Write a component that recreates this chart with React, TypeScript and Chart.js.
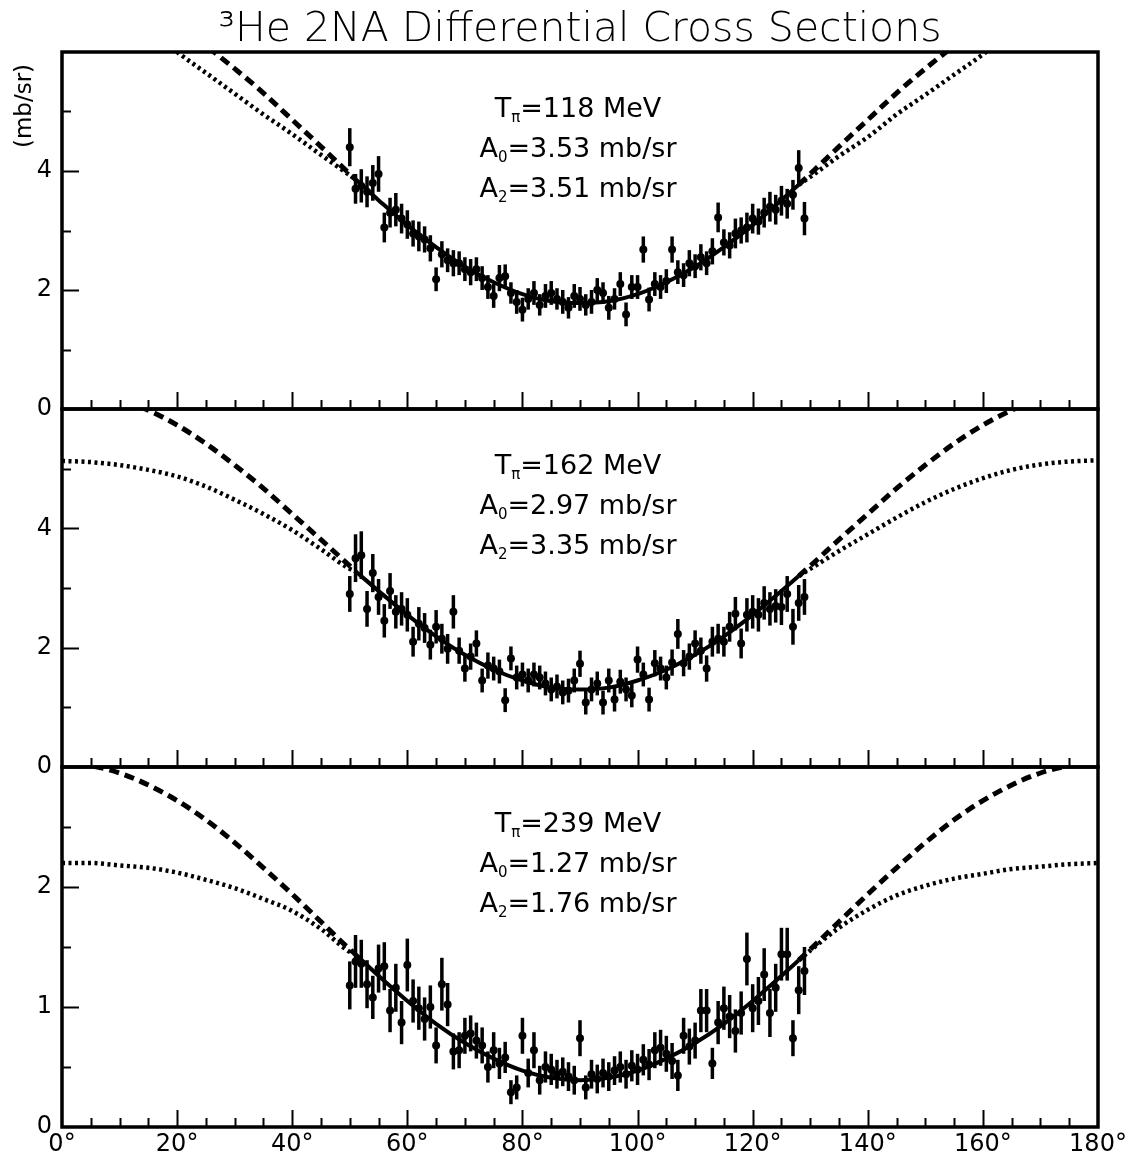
import React, { useEffect, useRef } from "react";
import { Chart, registerables } from "chart.js";

Chart.register(...registerables);

const FONT = '"DejaVu Sans", "Liberation Sans", sans-serif';

const TITLE = "³He 2NA Differential Cross Sections";
const Y_TITLE = "(mb/sr)";
const X_TICK_LABELS = ["0°", "20°", "40°", "60°", "80°", "100°", "120°", "140°", "160°", "180°"];

const ENERGIES = ["118", "162", "239"];
const A0_VALUES = ["3.53", "2.97", "1.27"];
const A2_VALUES = ["3.51", "3.35", "1.76"];

// measured angles (deg)
const DATA_ANGLES = [
  50, 51, 52, 53, 54, 55, 56, 57, 58, 59, 60, 61, 62, 63, 64, 65, 66, 67, 68, 69,
  70, 71, 72, 73, 74, 75, 76, 77, 78, 79, 80, 81, 82, 83, 84, 85, 86, 87, 88, 89,
  90, 91, 92, 93, 94, 95, 96, 97, 98, 99, 100, 101, 102, 103, 104, 105, 106, 107, 108, 109,
  110, 111, 112, 113, 114, 115, 116, 117, 118, 119, 120, 121, 122, 123, 124, 125, 126, 127, 128, 129,
];

// T = 118 MeV
const P1_VALUES = [
  4.40, 3.70, 3.75, 3.65, 3.80, 3.95, 3.05, 3.30, 3.35, 3.20,
  3.10, 2.95, 2.90, 2.85, 2.70, 2.18, 2.60, 2.50, 2.45, 2.45,
  2.35, 2.30, 2.35, 2.20, 2.05, 1.90, 2.20, 2.23, 1.95, 1.80,
  1.67, 1.85, 1.95, 1.75, 1.90, 1.95, 1.85, 1.80, 1.70, 1.90,
  1.85, 1.75, 1.80, 2.00, 1.95, 1.70, 1.85, 2.10, 1.59, 2.05,
  2.05, 2.68, 1.84, 2.10, 2.05, 2.15, 2.68, 2.30, 2.25, 2.45,
  2.40, 2.55, 2.45, 2.65, 3.22, 2.80, 2.75, 2.95, 3.00, 3.05,
  3.20, 3.15, 3.30, 3.40, 3.35, 3.50, 3.45, 3.60, 4.05, 3.20,
];
const P1_ERRORS = [
  0.32, 0.25, 0.28, 0.26, 0.30, 0.30, 0.25, 0.25, 0.28, 0.25,
  0.24, 0.22, 0.25, 0.22, 0.22, 0.20, 0.22, 0.20, 0.22, 0.20,
  0.20, 0.22, 0.20, 0.20, 0.20, 0.20, 0.22, 0.20, 0.18, 0.20,
  0.20, 0.18, 0.20, 0.18, 0.20, 0.20, 0.18, 0.20, 0.18, 0.20,
  0.20, 0.18, 0.20, 0.20, 0.18, 0.20, 0.18, 0.20, 0.20, 0.20,
  0.20, 0.22, 0.20, 0.20, 0.20, 0.20, 0.22, 0.20, 0.20, 0.22,
  0.20, 0.22, 0.20, 0.22, 0.25, 0.22, 0.22, 0.25, 0.22, 0.25,
  0.25, 0.22, 0.25, 0.25, 0.25, 0.25, 0.25, 0.25, 0.30, 0.28,
];

// T = 162 MeV
const P2_VALUES = [
  2.90, 3.50, 3.55, 2.65, 3.25, 2.85, 2.45, 2.95, 2.60, 2.65,
  2.55, 2.10, 2.40, 2.33, 2.05, 2.35, 2.15, 1.98, 2.60, 1.95,
  1.65, 1.85, 2.07, 1.45, 1.70, 1.65, 1.60, 1.12, 1.82, 1.50,
  1.55, 1.45, 1.55, 1.50, 1.40, 1.30, 1.35, 1.25, 1.28, 1.45,
  1.73, 1.08, 1.30, 1.40, 1.08, 1.45, 1.13, 1.43, 1.30, 1.20,
  1.80, 1.55, 1.13, 1.74, 1.65, 1.50, 1.75, 2.23, 1.74, 1.85,
  2.07, 1.95, 1.65, 2.10, 2.15, 2.10, 2.35, 2.57, 2.07, 2.55,
  2.60, 2.55, 2.75, 2.65, 2.70, 2.68, 2.90, 2.35, 2.75, 2.85,
];
const P2_ERRORS = [
  0.30, 0.40, 0.40, 0.30, 0.32, 0.30, 0.28, 0.30, 0.28, 0.28,
  0.28, 0.25, 0.28, 0.25, 0.25, 0.28, 0.25, 0.25, 0.28, 0.22,
  0.22, 0.22, 0.22, 0.20, 0.22, 0.20, 0.20, 0.20, 0.20, 0.20,
  0.20, 0.20, 0.20, 0.20, 0.20, 0.20, 0.20, 0.20, 0.20, 0.20,
  0.22, 0.20, 0.20, 0.20, 0.20, 0.20, 0.20, 0.20, 0.20, 0.20,
  0.22, 0.20, 0.20, 0.22, 0.20, 0.20, 0.22, 0.25, 0.22, 0.22,
  0.22, 0.22, 0.22, 0.25, 0.25, 0.25, 0.25, 0.28, 0.25, 0.28,
  0.28, 0.28, 0.28, 0.28, 0.28, 0.30, 0.30, 0.30, 0.30, 0.30,
];

// T = 239 MeV
const P3_VALUES = [
  1.18, 1.38, 1.36, 1.19, 1.08, 1.32, 1.34, 0.97, 1.16, 0.87,
  1.35, 1.05, 0.99, 0.90, 1.00, 0.68, 1.19, 1.02, 0.63, 0.64,
  0.76, 0.78, 0.72, 0.68, 0.50, 0.64, 0.53, 0.58, 0.29, 0.33,
  0.76, 0.45, 0.64, 0.39, 0.50, 0.48, 0.44, 0.46, 0.42, 0.39,
  0.74, 0.33, 0.44, 0.40, 0.45, 0.42, 0.47, 0.50, 0.44, 0.51,
  0.48, 0.56, 0.52, 0.64, 0.66, 0.61, 0.55, 0.43, 0.76, 0.67,
  0.72, 0.97, 0.97, 0.53, 0.87, 0.99, 0.92, 0.80, 0.95, 1.40,
  0.99, 1.05, 1.27, 0.95, 1.16, 1.44, 1.44, 0.74, 1.14, 1.30,
];
const P3_ERRORS = [
  0.20, 0.22, 0.20, 0.20, 0.18, 0.20, 0.20, 0.18, 0.20, 0.18,
  0.22, 0.18, 0.18, 0.18, 0.18, 0.15, 0.22, 0.18, 0.15, 0.15,
  0.15, 0.15, 0.15, 0.15, 0.13, 0.15, 0.13, 0.13, 0.10, 0.10,
  0.15, 0.12, 0.15, 0.12, 0.13, 0.13, 0.12, 0.12, 0.12, 0.12,
  0.15, 0.10, 0.12, 0.12, 0.12, 0.12, 0.12, 0.13, 0.12, 0.13,
  0.13, 0.13, 0.13, 0.15, 0.15, 0.15, 0.15, 0.13, 0.15, 0.15,
  0.15, 0.18, 0.18, 0.13, 0.18, 0.18, 0.18, 0.18, 0.18, 0.22,
  0.20, 0.20, 0.22, 0.20, 0.20, 0.22, 0.22, 0.15, 0.20, 0.20,
];

// fitted curve over the measured range
const FIT_ANGLES = [51, 55, 60, 65, 70, 75, 80, 85, 90, 95, 100, 105, 110, 115, 120, 125, 128];
const P1_FIT = [3.86, 3.51, 3.09, 2.72, 2.39, 2.13, 1.93, 1.81, 1.78, 1.81, 1.93, 2.13, 2.39, 2.72, 3.09, 3.51, 3.77];
const P2_FIT = [3.28, 2.95, 2.55, 2.19, 1.88, 1.63, 1.45, 1.33, 1.30, 1.33, 1.45, 1.63, 1.88, 2.19, 2.55, 2.95, 3.20];
const P3_FIT = [1.44, 1.26, 1.05, 0.86, 0.70, 0.57, 0.47, 0.41, 0.39, 0.41, 0.47, 0.57, 0.70, 0.86, 1.05, 1.26, 1.39];

// extrapolated curves outside the measured range (null = gap)
const CURVE_ANGLES = [0, 5, 10, 15, 20, 25, 30, 35, 40, 45, 50, 51, 90, 128, 130, 135, 140, 145, 150, 155, 160, 165, 170, 175, 180];
const P1_DASHED = [7.04, 7.00, 6.88, 6.69, 6.42, 6.10, 5.72, 5.31, 4.86, 4.41, 3.95, 3.86, null, 3.77, 3.95, 4.41, 4.86, 5.31, 5.72, 6.10, 6.42, 6.69, 6.88, 7.00, 7.04];
const P1_DOTTED = [6.90, 6.85, 6.70, 6.40, 6.00, 5.65, 5.30, 4.95, 4.62, 4.27, 3.93, 3.86, null, 3.77, 3.90, 4.25, 4.57, 4.95, 5.28, 5.62, 5.96, 6.35, 6.65, 6.82, 6.88];
const P2_DASHED = [6.32, 6.28, 6.17, 5.98, 5.73, 5.42, 5.06, 4.67, 4.24, 3.81, 3.37, 3.28, null, 3.20, 3.37, 3.81, 4.24, 4.67, 5.06, 5.42, 5.73, 5.98, 6.17, 6.28, 6.32];
const P2_DOTTED = [5.13, 5.11, 5.06, 4.98, 4.87, 4.70, 4.48, 4.24, 3.97, 3.65, 3.32, 3.28, null, 3.20, 3.32, 3.62, 3.90, 4.18, 4.44, 4.66, 4.84, 4.98, 5.07, 5.12, 5.14];
const P3_DASHED = [3.03, 3.01, 2.95, 2.85, 2.72, 2.56, 2.37, 2.16, 1.94, 1.71, 1.48, 1.44, null, 1.39, 1.48, 1.71, 1.94, 2.16, 2.37, 2.56, 2.72, 2.85, 2.95, 3.01, 3.03];
const P3_DOTTED = [2.20, 2.20, 2.18, 2.16, 2.12, 2.06, 1.99, 1.90, 1.80, 1.65, 1.46, 1.44, null, 1.39, 1.47, 1.66, 1.81, 1.93, 2.01, 2.07, 2.11, 2.15, 2.17, 2.19, 2.20];

// y axis ranges and ticks per panel
const Y_MAX = [6, 6, 3];
const Y_MINOR_STEP = [1, 1, 0.5];
const Y_LABEL_STEP = [2, 2, 1];

// layout (pixels)
const PANEL_TOP = [52, 409, 767];
const PANEL_BOTTOM = [409, 767, 1127];
const W = 1134;
const H = 1160;
const PLOT_LEFT = 62;
const PLOT_RIGHT = 1098;
const X_AXIS_H = 33;

const PANELS = [
  { values: P1_VALUES, errors: P1_ERRORS, fit: P1_FIT, dashed: P1_DASHED, dotted: P1_DOTTED },
  { values: P2_VALUES, errors: P2_ERRORS, fit: P2_FIT, dashed: P2_DASHED, dotted: P2_DOTTED },
  { values: P3_VALUES, errors: P3_ERRORS, fit: P3_FIT, dashed: P3_DASHED, dotted: P3_DOTTED },
];

function splitSegments(xs: number[], ys: (number | null)[]) {
  const segs: { x: number; y: number }[][] = [];
  let cur: { x: number; y: number }[] = [];
  xs.forEach((x, i) => {
    const y = ys[i];
    if (y === null) {
      if (cur.length) segs.push(cur);
      cur = [];
    } else cur.push({ x, y });
  });
  if (cur.length) segs.push(cur);
  return segs;
}

const errorBarPlugin = {
  id: "errorBars",
  afterDatasetsDraw(chart: any) {
    const { ctx } = chart;
    const x = chart.scales.x;
    const y = chart.scales.y;
    chart.data.datasets.forEach((ds: any) => {
      if (!ds.errors) return;
      ctx.save();
      ctx.strokeStyle = "#000";
      ctx.lineWidth = 3.5;
      ds.data.forEach((pt: any, i: number) => {
        const e = ds.errors[i];
        const px = x.getPixelForValue(pt.x);
        ctx.beginPath();
        ctx.moveTo(px, y.getPixelForValue(pt.y - e));
        ctx.lineTo(px, y.getPixelForValue(pt.y + e));
        ctx.stroke();
      });
      ctx.restore();
    });
  },
};

const framePlugin = {
  id: "frame",
  afterDraw(chart: any, _args: any, opts: any) {
    const { ctx, chartArea } = chart;
    const { left, right, top, bottom } = chartArea;
    const x = chart.scales.x;
    const y = chart.scales.y;
    ctx.save();
    ctx.strokeStyle = "#000";
    ctx.lineWidth = 2;
    for (let v = 5; v < 180; v += 5) {
      const px = Math.round(x.getPixelForValue(v)) + 0.5;
      const len = v % 20 === 0 ? 17 : 9;
      ctx.beginPath();
      ctx.moveTo(px, bottom);
      ctx.lineTo(px, bottom - len);
      ctx.stroke();
    }
    const n = Math.round(opts.yMax / opts.minorStep);
    for (let k = 1; k < n; k++) {
      const v = k * opts.minorStep;
      const r = v / opts.labelStep;
      const major = Math.abs(r - Math.round(r)) < 1e-6;
      const py = Math.round(y.getPixelForValue(v)) + 0.5;
      ctx.beginPath();
      ctx.moveTo(left, py);
      ctx.lineTo(left + (major ? 17 : 9), py);
      ctx.stroke();
    }
    ctx.lineWidth = 3.5;
    ctx.strokeRect(left, top, right - left, bottom - top);
    ctx.restore();
  },
};

const textPlugin = {
  id: "panelText",
  afterDraw(chart: any, _args: any, opts: any) {
    if (!opts.lines) return;
    const { ctx, chartArea } = chart;
    const cx = (chartArea.left + chartArea.right) / 2 - 2;
    ctx.save();
    ctx.fillStyle = "#000";
    ctx.textBaseline = "middle";
    ctx.textAlign = "left";
    const mainFont = `27px ${FONT}`;
    const subFont = `15px ${FONT}`;
    opts.lines.forEach((segs: any[], i: number) => {
      const yy = chartArea.top + opts.offsets[i];
      let w = 0;
      segs.forEach((s) => {
        ctx.font = s.sub ? subFont : mainFont;
        w += ctx.measureText(s.t).width;
      });
      let xx = cx - w / 2;
      segs.forEach((s) => {
        ctx.font = s.sub ? subFont : mainFont;
        ctx.fillText(s.t, xx, yy + (s.sub ? 8 : 0));
        xx += ctx.measureText(s.t).width;
      });
    });
    if (opts.yTitle) {
      ctx.font = `23px ${FONT}`;
      ctx.textAlign = "center";
      ctx.translate(25, 106);
      ctx.rotate(-Math.PI / 2);
      ctx.fillText(opts.yTitle, 0, 0);
    }
    ctx.restore();
  },
};

function buildConfig(p: any, i: number) {
  const isFirst = i === 0;
  const isBottom = i === 2;
  const dashSegs = splitSegments(CURVE_ANGLES, p.dashed);
  const dotSegs = splitSegments(CURVE_ANGLES, p.dotted);
  const datasets: any[] = [
    {
      label: "data",
      data: DATA_ANGLES.map((x, k) => ({ x, y: p.values[k] })),
      errors: p.errors,
      showLine: false,
      pointRadius: 4,
      pointBackgroundColor: "#000",
      pointBorderWidth: 0,
      borderColor: "#000",
    },
    {
      label: "fit",
      data: FIT_ANGLES.map((x, k) => ({ x, y: p.fit[k] })),
      borderColor: "#000",
      borderWidth: 4,
      pointRadius: 0,
      cubicInterpolationMode: "monotone",
    },
  ];
  dashSegs.forEach((seg) =>
    datasets.push({
      label: "dashed",
      data: seg,
      borderColor: "#000",
      borderWidth: 5,
      borderDash: [10, 6],
      pointRadius: 0,
      cubicInterpolationMode: "monotone",
    })
  );
  dotSegs.forEach((seg) =>
    datasets.push({
      label: "dotted",
      data: seg,
      borderColor: "#000",
      borderWidth: 4.5,
      borderDash: [3, 3.5],
      pointRadius: 0,
      cubicInterpolationMode: "monotone",
    })
  );

  const tickFont = { family: FONT, size: 24 };
  return {
    type: "line",
    data: { datasets },
    options: {
      responsive: false,
      animation: false,
      events: [],
      layout: {
        padding: {
          left: 0,
          right: W - PLOT_RIGHT,
          top: isFirst ? 0 : PANEL_TOP[i],
          bottom: isBottom ? H - PANEL_BOTTOM[i] - X_AXIS_H : H - PANEL_BOTTOM[i],
        },
      },
      plugins: {
        legend: { display: false },
        tooltip: { enabled: false },
        title: isFirst
          ? {
              display: true,
              text: TITLE,
              color: "#000",
              fullSize: false,
              font: { family: FONT, size: 41, weight: "300", lineHeight: 1 },
              padding: { top: 10, bottom: 1 },
            }
          : { display: false },
        frame: { yMax: Y_MAX[i], minorStep: Y_MINOR_STEP[i], labelStep: Y_LABEL_STEP[i] },
        panelText: {
          offsets: [58, 98, 138],
          yTitle: isFirst ? Y_TITLE : null,
          lines: [
            [{ t: "T" }, { t: "π", sub: true }, { t: "=" + ENERGIES[i] + " MeV" }],
            [{ t: "A" }, { t: "0", sub: true }, { t: "=" + A0_VALUES[i] + " mb/sr" }],
            [{ t: "A" }, { t: "2", sub: true }, { t: "=" + A2_VALUES[i] + " mb/sr" }],
          ],
        },
      },
      scales: {
        x: {
          type: "linear",
          min: 0,
          max: 180,
          display: isBottom,
          grid: { display: false, drawTicks: false },
          border: { display: false },
          ticks: {
            stepSize: 20,
            autoSkip: false,
            maxRotation: 0,
            color: "#000",
            font: tickFont,
            padding: 3,
            callback: (v: number) => X_TICK_LABELS[Math.round(v / 20)] ?? "",
          },
          afterFit: (s: any) => {
            s.height = isBottom ? X_AXIS_H : 0;
          },
        },
        y: {
          type: "linear",
          min: 0,
          max: Y_MAX[i],
          grid: { display: false, drawTicks: false },
          border: { display: false },
          ticks: {
            stepSize: Y_MINOR_STEP[i],
            autoSkip: false,
            color: "#000",
            font: tickFont,
            padding: 10,
            callback: (v: number) => {
              const r = v / Y_LABEL_STEP[i];
              if (v >= Y_MAX[i] - 1e-6) return "";
              return Math.abs(r - Math.round(r)) < 1e-6 ? String(v) : "";
            },
          },
          afterFit: (s: any) => {
            s.width = PLOT_LEFT;
          },
        },
      },
    },
    plugins: [errorBarPlugin, framePlugin, textPlugin],
  };
}

export default function App() {
  const r0 = useRef<HTMLCanvasElement>(null);
  const r1 = useRef<HTMLCanvasElement>(null);
  const r2 = useRef<HTMLCanvasElement>(null);
  useEffect(() => {
    const refs = [r0, r1, r2];
    const charts = PANELS.map((p, i) => new Chart(refs[i].current as any, buildConfig(p, i) as any));
    return () => charts.forEach((c) => c.destroy());
  }, []);
  const style: any = { position: "absolute", left: 0, top: 0 };
  return (
    <div style={{ position: "absolute", left: 0, top: 0, width: W, height: H, background: "#fff" }}>
      <canvas ref={r0} width={W} height={H} style={style} />
      <canvas ref={r1} width={W} height={H} style={style} />
      <canvas ref={r2} width={W} height={H} style={style} />
    </div>
  );
}
